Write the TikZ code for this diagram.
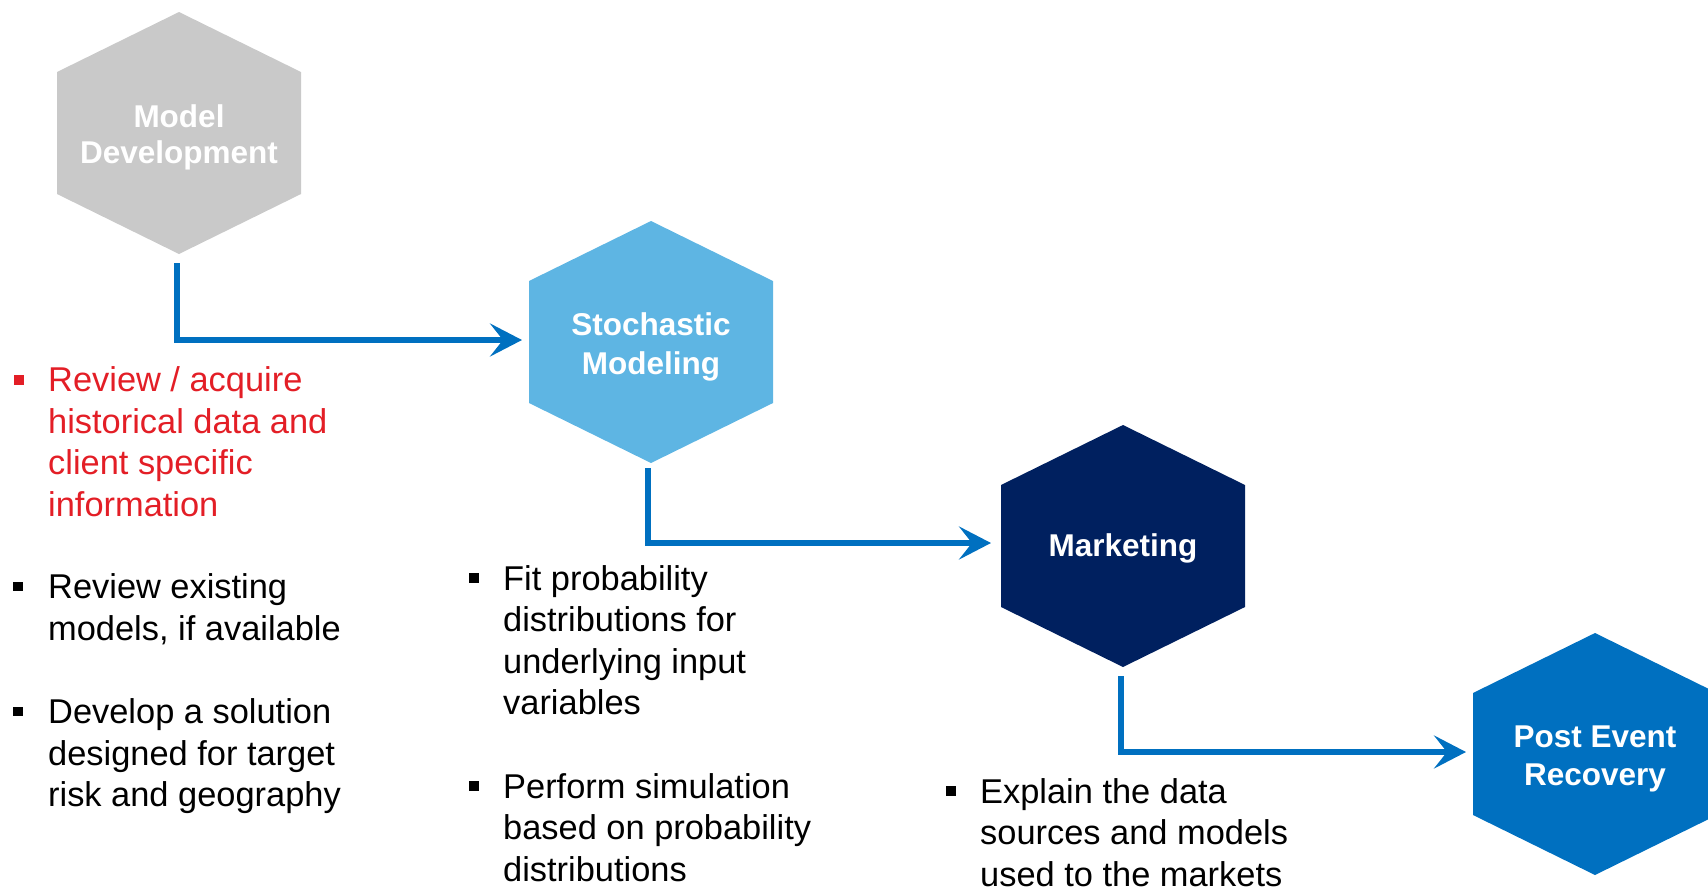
\documentclass[tikz,border=0pt]{standalone}
\usepackage{fontspec}
\setmainfont{Liberation Sans}
\usetikzlibrary{arrows.meta}
\definecolor{hexgray}{HTML}{C9C9C9}
\definecolor{hexlight}{HTML}{5EB5E3}
\definecolor{hexnavy}{HTML}{00205F}
\definecolor{hexblue}{HTML}{0070C0}
\definecolor{arrowblue}{HTML}{0070C0}
\definecolor{itemred}{HTML}{E31E26}
\tikzset{
  hexa/.pic={\fill (0,-121) -- (122,-61) -- (122,61) -- (0,121) -- (-122,61) -- (-122,-61) -- cycle;},
  hexlabel/.style={anchor=base, inner sep=0pt, text=white},
  conn/.style={draw=arrowblue, line width=6.5pt, line join=miter,
    -{Stealth[length=32pt,width=33pt,inset=13pt]}},
  bulletbox/.style={fill, minimum size=9.5pt, inner sep=0pt},
  itemtext/.style={anchor=base west, inner sep=0pt}
}
\newcommand{\hexlines}[2]{\parbox[t]{240pt}{\centering\fontsize{31.5}{#1}\selectfont\bfseries #2}}
\newcommand{\itemlines}[1]{\parbox[t]{340pt}{\raggedright\fontsize{34.4}{41.5}\selectfont #1}}
\begin{document}
\begin{tikzpicture}[x=1pt,y=-1pt]
\useasboundingbox (0,0) rectangle (1708,887);
\clip (0,0) rectangle (1708,887);
% hexagons
\pic[fill=hexgray]  at (179,133) {hexa};
\pic[fill=hexlight] at (651,342) {hexa};
\pic[fill=hexnavy]  at (1123,546) {hexa};
\pic[fill=hexblue]  at (1595,754) {hexa};
% hexagon labels
\node[hexlabel] (md)  at (179,127)  {\hexlines{36}{Model\\Development}};
\node[hexlabel] (sm)  at (651,335)  {\hexlines{39}{Stochastic\\Modeling}};
\node[hexlabel] (mk)  at (1123,556) {\hexlines{38}{Marketing}};
\node[hexlabel] (per) at (1595,747) {\hexlines{38.5}{Post Event\\Recovery}};
% connector ends
\coordinate (md-out) at (177,263);
\coordinate (sm-in)  at (522,340);
\coordinate (sm-out) at (648,468);
\coordinate (mk-in)  at (991,543);
\coordinate (mk-out) at (1121,676);
\coordinate (per-in) at (1466,752);
\draw[conn] (md-out) |- (sm-in);
\draw[conn] (sm-out) |- (mk-in);
\draw[conn] (mk-out) |- (per-in);
% bullet items, left column
\node[bulletbox, fill=itemred, minimum size=10pt] (b1) at (19,379.5) {};
\node[itemtext, text=itemred] (t1) at (48,391.5) {\itemlines{Review / acquire\\historical data and\\client specific\\information}};
\node[bulletbox, fill=black] (b2) at (18,586.5) {};
\node[itemtext] (t2) at (48,598.5) {\itemlines{Review existing\\models, if available}};
\node[bulletbox, fill=black] (b3) at (18,711.5) {};
\node[itemtext] (t3) at (48,723.5) {\itemlines{Develop a solution\\designed for target\\risk and geography}};
% middle column
\node[bulletbox, fill=black] (b4) at (474,578) {};
\node[itemtext] (t4) at (503,590) {\itemlines{Fit probability\\distributions for\\underlying input\\variables}};
\node[bulletbox, fill=black] (b5) at (474,786) {};
\node[itemtext] (t5) at (503,798) {\itemlines{Perform simulation\\based on probability\\distributions}};
% right column
\node[bulletbox, fill=black] (b6) at (951,791) {};
\node[itemtext] (t6) at (980,803) {\itemlines{Explain the data\\sources and models\\used to the markets}};
\end{tikzpicture}
\end{document}
